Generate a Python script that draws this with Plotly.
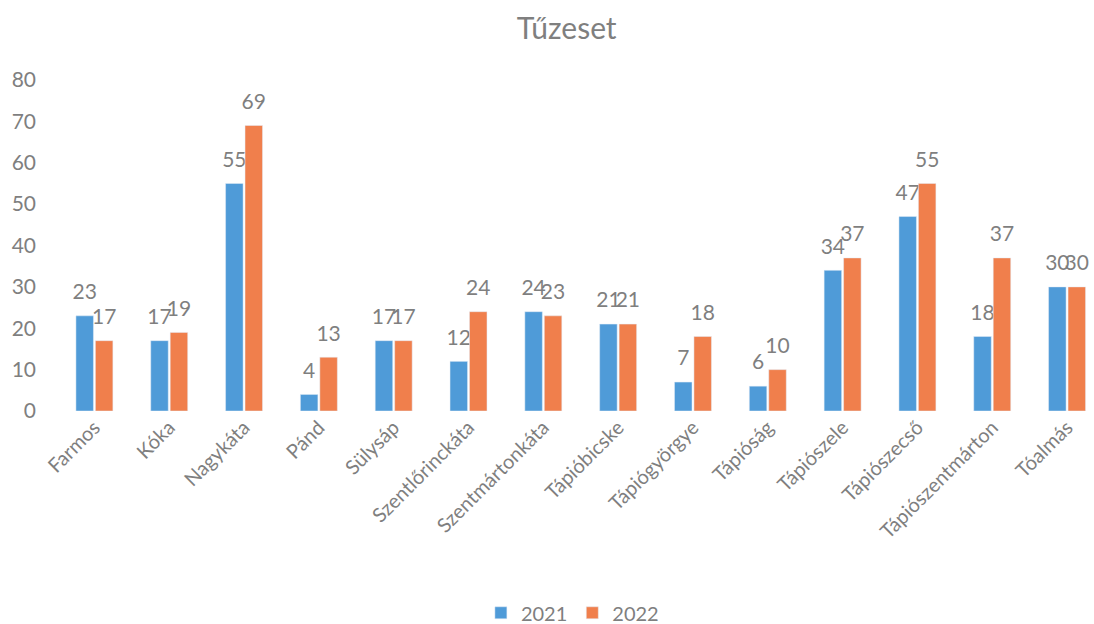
import plotly.graph_objects as go

categories = ["Farmos", "Kóka", "Nagykáta", "Pánd", "Sülysáp", "Szentlőrinckáta",
              "Szentmártonkáta", "Tápióbicske", "Tápiógyörgye", "Tápióság",
              "Tápiószele", "Tápiószecső", "Tápiószentmárton", "Tóalmás"]
values_2021 = [23, 17, 55, 4, 17, 12, 24, 21, 7, 6, 34, 47, 18, 30]
values_2022 = [17, 19, 69, 13, 17, 24, 23, 21, 18, 10, 37, 55, 37, 30]
y_ticks = [0, 10, 20, 30, 40, 50, 60, 70, 80]

FONT = "Lato, 'Open Sans', sans-serif"
GRAY = "#7f7f7f"
LABEL_TMPL = "<span style='font-size:21px'>%{y}</span><br> "

fig = go.Figure()
fig.add_trace(go.Bar(name="2021", x=categories, y=values_2021, marker_color="#4f9bd8",
                     texttemplate=LABEL_TMPL, textposition="outside", cliponaxis=False,
                     constraintext="none",
                     textfont=dict(size=9, color=GRAY, family=FONT)))
fig.add_trace(go.Bar(name="2022", x=categories, y=values_2022, marker_color="#f07f4c",
                     texttemplate=LABEL_TMPL, textposition="outside", cliponaxis=False,
                     constraintext="none",
                     textfont=dict(size=9, color=GRAY, family=FONT)))

fig.update_layout(
    width=1094, height=624,
    paper_bgcolor="white", plot_bgcolor="white",
    margin=dict(l=57, r=0, t=80, b=213, autoexpand=False),
    barmode="group", bargap=0.48, bargroupgap=0.1,
    font=dict(family=FONT, color=GRAY, size=19),
    title=dict(text="Tűzeset", x=0.518, xanchor="center", yref="container", y=0.955,
               yanchor="middle", font=dict(size=30, color=GRAY, family=FONT)),
    showlegend=True,
    legend=dict(orientation="h", x=0.497, xanchor="center", yref="container", y=0.018,
                yanchor="middle", font=dict(size=20, color=GRAY, family=FONT),
                itemwidth=30, traceorder="normal"),
    uniformtext=dict(mode=False),
)
fig.update_xaxes(tickangle=-45, showline=False, ticks="", showgrid=False,
                 range=[-0.5, 13.36],
                 tickfont=dict(size=20, color=GRAY, family=FONT))
fig.update_yaxes(range=[0, 80], tickvals=y_ticks, showgrid=False, zeroline=False,
                 showline=False, ticks="", ticklabelstandoff=20,
                 tickfont=dict(size=21, color=GRAY, family=FONT))

fig.write_html("out.html", config={"displayModeBar": False},
               post_script="document.body.style.margin='0';document.body.style.overflow='hidden';")
